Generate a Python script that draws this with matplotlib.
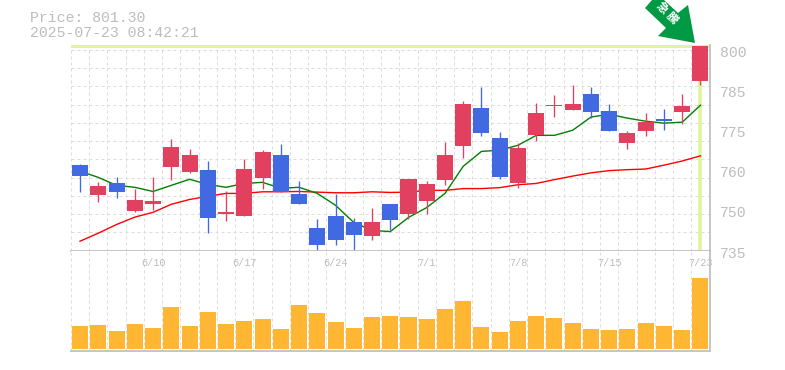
import matplotlib
matplotlib.use("Agg")
import matplotlib.pyplot as plt
from matplotlib.patches import Polygon
import numpy as np

# daily prices
opens = [764.06, 754.7, 758.4, 749.7, 751.9, 763.4, 761.9, 762.5, 748.75, 748.1, 760, 767.2,
         755, 744.4, 748.1, 746.25, 741.9, 751.9, 748.75, 752.8, 759.4, 770, 781.9, 772.5,
         758.4, 773.4, 782.5, 781.25, 786.25, 780.9, 770.9, 774.7, 778.4, 780.6, 790.3]
closes = [760.6, 757.5, 755.6, 753.1, 752.8, 769.7, 767.2, 747.5, 749.4, 762.8, 768.1, 755.6,
          751.9, 739.06, 740.9, 742.2, 746.25, 746.9, 759.7, 758.1, 767.2, 783.1, 774.1, 760.3,
          769.4, 780.3, 782.8, 783.1, 780.6, 774.7, 774.1, 777.5, 777.8, 782.5, 801.3]
highs = [764.4, 758.75, 760.3, 756.6, 760.3, 772.2, 769.1, 765.3, 755.9, 765.9, 768.75, 770.6,
         759.06, 747.2, 755, 747.5, 750.6, 751.9, 759.7, 759.06, 771.25, 784.06, 788.4, 774.4,
         770.9, 783.4, 785.9, 789.06, 788.4, 783.1, 774.7, 780.3, 781.6, 786.25, 801.3]
lows = [755.6, 752.5, 753.75, 749.4, 750, 759.4, 761.6, 743.1, 746.6, 748.1, 756.6, 755.6,
        751.9, 737.5, 739.06, 737.8, 740.9, 743.75, 747.2, 748.75, 757.8, 766.25, 773.1, 759.7,
        756.9, 771.6, 779.1, 781.25, 778.75, 774.7, 769.1, 773.1, 775, 776.9, 789.06]
ma_short = [762.2, 760.3, 757.8, 757.2, 755.9, 757.8, 759.7, 758.1, 757.2, 758.4, 758.75, 756.9,
            757.2, 755.3, 751.6, 746.25, 743.75, 743.4, 747.8, 750.9, 755.3, 763.75, 768.4, 768.75,
            770.3, 773.4, 773.4, 775, 779.1, 780, 778.75, 777.8, 777.2, 777.5, 782.8]
ma_long = [740.4, 742.9, 745.6, 747.9, 749.4, 751.9, 753.4, 754.4, 755.3, 755.3, 755.8, 755.8,
           755.9, 755.7, 755.5, 755.5, 755.8, 755.6, 755.7, 756.25, 756.25, 756.8, 756.8, 757.1,
           758, 758.4, 759.6, 760.7, 761.7, 762.4, 762.7, 762.9, 764.1, 765.4, 767]
volume = [23, 24, 18, 25, 21, 42, 23, 37, 25, 28, 30, 20, 44, 36, 27, 21, 32, 33,
          32, 30, 40, 48, 22, 17, 28, 33, 31, 26, 20, 19, 20, 26, 23, 19, 71]

price_ticks = [800, 787.5, 775, 762.5, 750, 737.5]
price_labels = ["800", "785", "775", "760", "750", "735"]
date_pos = [4, 9, 14, 19, 24, 29, 34]
date_labels = ["6/10", "6/17", "6/24", "7/1", "7/8", "7/15", "7/23"]

W, H = 785, 370
RED = "#e2405f"
BLUE = "#4169e1"
GRID = "#dcdcdc"
AXIS = "#c0c0c0"
HILITE = "#e0f4a0"
TEXT = "#bdbdbd"
MONO = "Liberation Mono"
GRID_STYLE = dict(color=GRID, lw=0.72, ls=(0, (3, 3)))

fig = plt.figure(figsize=(W / 100, H / 100), dpi=100, facecolor="white")


def make_axes(top, bottom):
    left, right = 70.9, 709.6
    return fig.add_axes([left / W, 1 - bottom / H, (right - left) / W, (bottom - top) / H])


ax = make_axes(45, 250.5)
vol = make_axes(250.5, 350.5)
n = len(closes)
x = np.arange(n)

for a in (ax, vol):
    a.set_xlim(-0.5, n - 0.5)
    a.set_xticks(x - 0.5)
    a.set_xticklabels([])
    a.tick_params(length=0, labelleft=False)
    a.grid(axis="x", **GRID_STYLE)
    a.set_axisbelow(True)
    for s in ("left", "top"):
        a.spines[s].set_visible(False)
    for s in ("right", "bottom"):
        a.spines[s].set_color(AXIS)
        a.spines[s].set_linewidth(1.3)

# price panel
ax.set_ylim(737.5, 801.56)
ax.set_yticks(np.linspace(737.5, 800, 12))
ax.grid(axis="y", **GRID_STYLE)
ax.axhline(closes[-1], color=HILITE, lw=2.2, zorder=1.2)
ax.axvline(x[-1], color=HILITE, lw=2.6, zorder=1.2, ymax=0.98)

# the averages sit behind the candles
ax.plot(x, ma_long, color="#ff0000", lw=1.0, zorder=1.5)
ax.plot(x, ma_short, color="#008000", lw=1.0, zorder=1.5)

colors = [RED if c >= o else BLUE for o, c in zip(opens, closes)]
ax.vlines(x, lows, highs, colors=colors, lw=0.95, zorder=2)
ax.bar(x, np.abs(np.subtract(closes, opens)), bottom=np.minimum(opens, closes),
       width=0.877, color=colors, zorder=2.5)

for v, lab in zip(price_ticks, price_labels):
    ax.annotate(lab, (1, v), xycoords=ax.get_yaxis_transform(), xytext=(10, -3),
                textcoords="offset pixels", ha="left", va="center",
                family=MONO, fontsize=10.6, color=TEXT, annotation_clip=False)

# volume panel
vol.set_ylim(-2, 98)
vol.set_yticks([])
vol.bar(x, volume, width=0.877, color="#ffb733", zorder=2)
for p, lab in zip(date_pos, date_labels):
    vol.annotate(lab, (p, 1), xycoords=vol.get_xaxis_transform(), xytext=(0, -12),
                 textcoords="offset pixels", ha="center", va="center",
                 family=MONO, fontsize=7.4, color=TEXT, annotation_clip=False)

# overlay in pixel coordinates for the header and the arrow badge
over = fig.add_axes([0, 0, 1, 1], zorder=5)
over.set_xlim(0, W)
over.set_ylim(H, 0)
over.axis("off")
over.text(30, 18, "Price: 801.30", family=MONO, fontsize=10.7, color=TEXT, va="center")
over.text(30, 33, "2025-07-23 08:42:21", family=MONO, fontsize=10.7, color=TEXT, va="center")

arrow = [(645, 8), (652, 0), (664, 0), (678, 13), (688, 5), (695, 43), (658, 36), (666, 28)]
over.add_patch(Polygon(arrow, closed=True, fc="#009944", ec="none"))
for cx, cy, ch in [(662, 8, "急"), (672, 18, "騰")]:
    over.text(cx, cy, ch, family="Noto Sans CJK JP", weight="bold", fontsize=8.4, color="white",
              rotation=-45, ha="center", va="center", rotation_mode="anchor")

fig.savefig("out.png", dpi=100)
